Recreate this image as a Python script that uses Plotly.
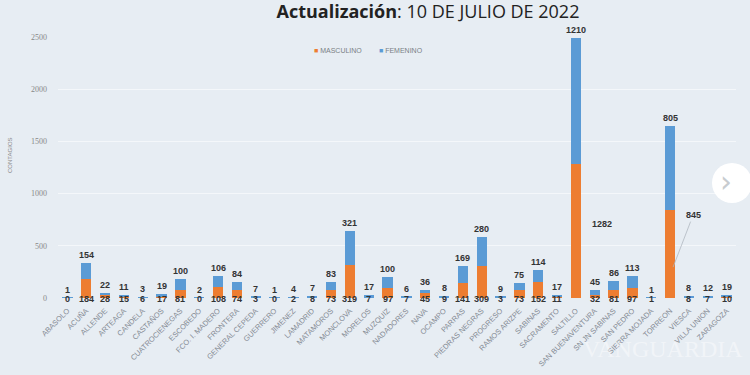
import plotly.graph_objects as go

municipios = ["ABASOLO", "ACUÑA", "ALLENDE", "ARTEAGA", "CANDELA", "CASTAÑOS",
              "CUATROCIENEGAS", "ESCOBEDO", "FCO. I. MADERO", "FRONTERA",
              "GENERAL CEPEDA", "GUERRERO", "JIMENEZ", "LAMADRID", "MATAMOROS",
              "MONCLOVA", "MORELOS", "MUZQUIZ", "NADADORES", "NAVA", "OCAMPO",
              "PARRAS", "PIEDRAS NEGRAS", "PROGRESO", "RAMOS ARIZPE", "SABINAS",
              "SACRAMENTO", "SALTILLO", "SAN BUENAVENTURA", "SN JN SABINAS",
              "SAN PEDRO", "SIERRA MOJADA", "TORREON", "VIESCA", "VILLA UNION",
              "ZARAGOZA"]
masculino = [0, 184, 28, 15, 6, 17, 81, 0, 108, 74, 3, 0, 2, 8, 73, 319, 7, 97, 7,
             45, 9, 141, 309, 3, 73, 152, 11, 1282, 32, 81, 97, 1, 845, 8, 7, 10]
femenino = [1, 154, 22, 11, 3, 19, 100, 2, 106, 84, 7, 1, 4, 7, 83, 321, 17, 100, 6,
            36, 8, 169, 280, 9, 75, 114, 17, 1210, 45, 86, 113, 1, 805, 8, 12, 19]
y_ticks = [0, 500, 1000, 1500, 2000, 2500]

ORANGE = "#ed7d31"
BLUE = "#5b9bd5"
BG = "#e7edf3"
LBL = dict(size=9, color="#333333", family="Liberation Sans")

L, R, T, B = 58, 14, 37, 77
PW, PH = 750 - L - R, 375 - T - B


def px(x):
    return (x - L) / PW


def py(y):
    return (375 - B - y) / PH


fig = go.Figure()
fig.add_trace(go.Bar(x=municipios, y=masculino, name="MASCULINO", showlegend=False,
                     marker=dict(color=ORANGE, line=dict(width=0))))
fig.add_trace(go.Bar(x=municipios, y=femenino, name="FEMENINO", showlegend=False,
                     marker=dict(color=BLUE, line=dict(width=0))))

for m, vm, vf in zip(municipios, masculino, femenino):
    # femenino label above the stacked total
    fig.add_annotation(x=m, y=vm + vf, text="<b>%d</b>" % vf, showarrow=False,
                       yanchor="bottom", yshift=1, font=LBL)
    # masculino label near the base, two moved beside the bar like the original
    if m == "SALTILLO":
        fig.add_annotation(x=m, y=vm * 0.55, text="<b>%d</b>" % vm, showarrow=False,
                           xshift=26, font=LBL)
    elif m == "TORREON":
        fig.add_annotation(x=m, y=vm * 0.35, ax=20, ay=-52, text="<b>%d</b>" % vm,
                           showarrow=True, arrowhead=0, arrowwidth=0.8, arrowcolor="#b0b8c0",
                           xshift=3, font=LBL)
    else:
        fig.add_annotation(x=m, y=0, text="<b>%d</b>" % vm, showarrow=False, yshift=-1,
                           font=LBL)

# legend drawn as small squares with text, as in the original
fig.add_annotation(xref="paper", yref="paper", x=px(312), y=py(45),
                   xanchor="left", showarrow=False,
                   text="<span style='color:%s'>■</span> MASCULINO" % ORANGE,
                   font=dict(size=7, color="#7a7f85"))
fig.add_annotation(xref="paper", yref="paper", x=px(377), y=py(45),
                   xanchor="left", showarrow=False,
                   text="<span style='color:%s'>■</span> FEMENINO" % BLUE,
                   font=dict(size=7, color="#7a7f85"))

# y-axis title
fig.add_annotation(xref="paper", yref="paper", x=px(5), y=py(155), text="CONTAGIOS",
                   textangle=-90, showarrow=False,
                   font=dict(size=6, color="#888888"))

# carousel button and watermark visible in the photograph
fig.add_shape(type="circle", xref="paper", yref="paper", x0=px(712), x1=px(752),
              y0=py(203), y1=py(163), fillcolor="white", line=dict(width=0), layer="above")
fig.add_annotation(xref="paper", yref="paper", x=px(734), y=py(181), text="›",
                   showarrow=False, font=dict(size=30, color="#c8ccd0", family="DejaVu Sans"))
fig.add_annotation(xref="paper", yref="paper", x=px(745), y=py(364), text="VANGUARDIA",
                   showarrow=False, xanchor="right",
                   font=dict(size=24, color="rgba(255,255,255,0.45)", family="Liberation Serif"))

fig.update_layout(
    width=750, height=375,
    margin=dict(l=L, r=R, t=T, b=B),
    paper_bgcolor=BG, plot_bgcolor=BG,
    barmode="stack", bargap=0.45,
    hovermode=False,
    title=dict(text="<b>Actualización</b>: 10 DE JULIO DE 2022",
               x=428 / 750, xanchor="center", y=1 - 12 / 375, yanchor="middle",
               font=dict(size=18, color="#222222", family="Open Sans")),
    showlegend=False,
    font=dict(family="Liberation Sans"),
)
fig.update_yaxes(range=[0, 2500], tickvals=y_ticks, showgrid=True, automargin=False,
                 gridcolor="#f4f7fa", gridwidth=1, zeroline=False,
                 tickfont=dict(size=8, color="#888888", family="Liberation Serif"),
                 ticklabelstandoff=10)
fig.update_xaxes(tickangle=-45, tickfont=dict(size=7.5, color="#858b93"), automargin=False,
                 showline=False, ticks="", ticklabelstandoff=6)

fig.write_html("out.html", config={"displayModeBar": False},
               post_script="document.body.style.margin='0';"
                           "document.body.style.background='%s';" % BG)
